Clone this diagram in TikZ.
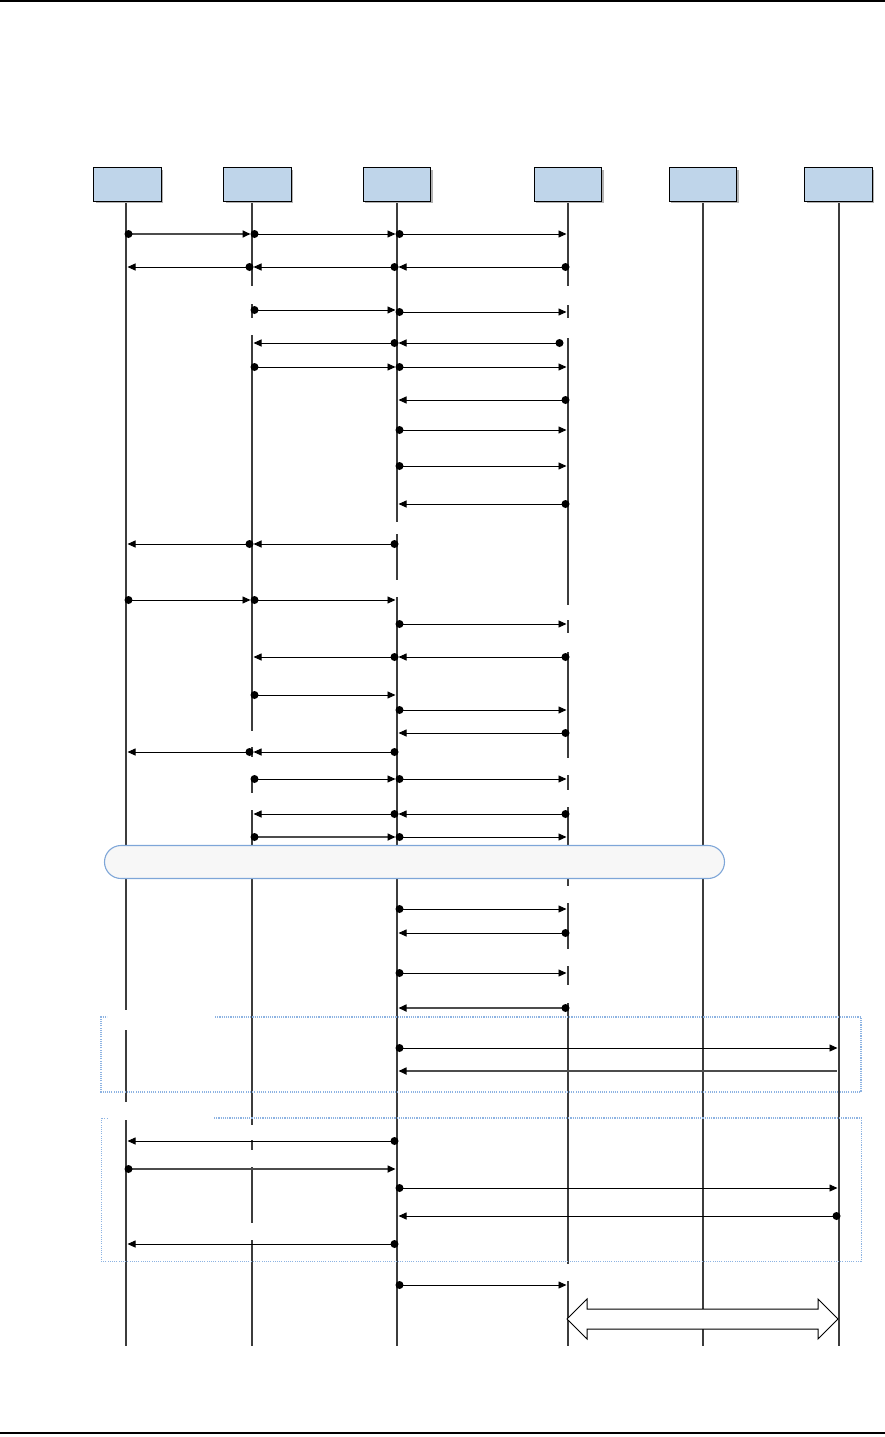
\documentclass[tikz,border=0pt]{standalone}
\usetikzlibrary{arrows.meta,shadows}
\definecolor{hdrfill}{HTML}{BFD5EA}
\definecolor{lifec}{HTML}{3C3C3C}
\definecolor{barfill}{HTML}{F7F7F7}
\definecolor{barline}{HTML}{7EA6D8}
\definecolor{frameline}{HTML}{8DB3E2}
\begin{document}
\begin{tikzpicture}[x=1pt,y=-1pt,
  hdr/.style={draw=black, line width=0.9pt, fill=hdrfill, minimum width=67.5pt,
    minimum height=33.5pt, inner sep=0pt,
    drop shadow={shadow xshift=2pt,shadow yshift=-2pt,fill=black!30,opacity=1}},
  life/.style={draw=lifec, line width=1.4pt},
  msgn/.style={draw=black, line width=0.9pt, -{Triangle[length=8pt,width=7pt]}},
  msgg/.style={draw=black!70, line width=1.6pt, -{Triangle[length=8pt,width=7pt,color=black]}},
  framestyle/.style={draw=frameline, line width=1.3pt, dash pattern=on 1.1pt off 1.1pt},
  barstyle/.style={draw=barline, fill=barfill, line width=1.1pt, rounded corners=16.5pt,
    minimum width=620pt, minimum height=33pt, inner sep=0pt},
  dblarrow/.style={draw=black, line width=1pt, fill=white, line join=miter}
]
\useasboundingbox (0,0) rectangle (885,1437);
% page rules
\coordinate (tl) at (0,1); \coordinate (tr) at (885,1);
\draw[line width=1.3pt] (tl) -- (tr);
\coordinate (bl) at (0,1433); \coordinate (br) at (885,1433);
\draw[line width=2.4pt] (bl) -- (br);

% lifelines (with gaps)
\foreach \x/\segs [count=\i] in {
  126/{202/1010,1030/1102,1120/1346},
  252/{202/286,304/318,335/731,747/757,777/793,810/845,879/1125,1140/1150,1167/1223,1240/1346},
  397/{202/522,534/580,597/1346},
  568/{202/286,305/318,338/605,620/633,652/758,775/790,807/886,903/949,966/985,1003/1264,1281/1346},
  703/{202/1346},
  839/{202/1346}} {
  \foreach \a/\b [count=\j] in \segs {
    \coordinate (ll\i t\j) at (\x,\a);
    \coordinate (ll\i b\j) at (\x,\b);
    \draw[life] (ll\i t\j) -- (ll\i b\j);
  }
}

% frames
\coordinate (fa1) at (215,1017); \coordinate (fa2) at (861,1017);
\coordinate (fa3) at (861,1092); \coordinate (fa4) at (101,1092);
\coordinate (fa5) at (101,1017); \coordinate (fa6) at (107,1017);
\draw[framestyle] (fa1) -- (fa2) -- (fa3) -- (fa4) -- (fa5) -- (fa6);
\coordinate (fb1) at (214,1118); \coordinate (fb2) at (861,1118);
\coordinate (fb3) at (861,1261); \coordinate (fb4) at (101,1261);
\coordinate (fb5) at (101,1118); \coordinate (fb6) at (107,1118);
\draw[framestyle] (fb1) -- (fb2);
\draw[framestyle, line width=0.9pt] (fb2) -- (fb3) -- (fb4) -- (fb5) -- (fb6);

% messages
\foreach \y/\a/\b/\d/\t [count=\i] in {
  234/126/252/1/g, 234/252/397/1/n, 234/397/568/1/n,
  267/252/126/1/n, 267/397/252/1/n, 267/568/397/1/n,
  310/252/397/1/n, 312/397/568/1/n,
  343/397/252/1/n, 343/562/397/1/n,
  367/252/397/1/n, 367/397/568/1/n,
  400/568/397/1/n, 430/397/568/1/n, 466/397/568/1/n, 504/568/397/1/n,
  544/252/126/1/n, 544/397/252/1/n,
  600/126/252/1/n, 600/252/397/1/n,
  624/397/568/1/n,
  657/397/252/1/n, 657/568/397/1/n,
  695/252/397/1/n, 710/397/568/1/n, 733/568/397/1/n,
  752/252/126/1/n, 752/397/252/1/n,
  779/252/397/1/n, 779/397/568/1/n,
  814/397/252/1/n, 814/568/397/1/n,
  837/252/397/1/g, 837/397/568/1/n,
  909/397/568/1/n, 933/568/397/1/n, 973/397/568/1/n, 1008/568/397/1/g,
  1048/397/839/1/n, 1071/839/397/0/g,
  1141/397/126/1/n, 1169/126/397/1/g, 1188/397/839/1/n, 1216/839/397/1/n, 1244/397/126/1/n,
  1285/397/568/1/n} {
  \pgfmathsetmacro\sg{sign(\b-\a)}
  \coordinate (s\i) at ({\a+2.5*\sg},\y);
  \coordinate (e\i) at ({\b-1.5*\sg},\y);
  \draw[msg\t] (s\i) -- (e\i);
  \ifnum\d=1 \fill (s\i) circle (4pt);\fi
}

% rounded bar
\node[barstyle] (bar) at (414.5,862) {};

% double block arrow
\draw[dblarrow] (567,1319) -- (587,1299) -- (587,1309) -- (818,1309) -- (818,1299)
  -- (838,1319) -- (818,1339) -- (818,1329) -- (587,1329) -- (587,1339) -- cycle;

% header boxes
\node[hdr] (h1) at (127.5,184.5) {};
\node[hdr] (h2) at (257.5,184.5) {};
\node[hdr] (h3) at (397,184.5) {};
\node[hdr] (h4) at (568,184.5) {};
\node[hdr] (h5) at (703,184.5) {};
\node[hdr] (h6) at (838.5,184.5) {};
\end{tikzpicture}
\end{document}
